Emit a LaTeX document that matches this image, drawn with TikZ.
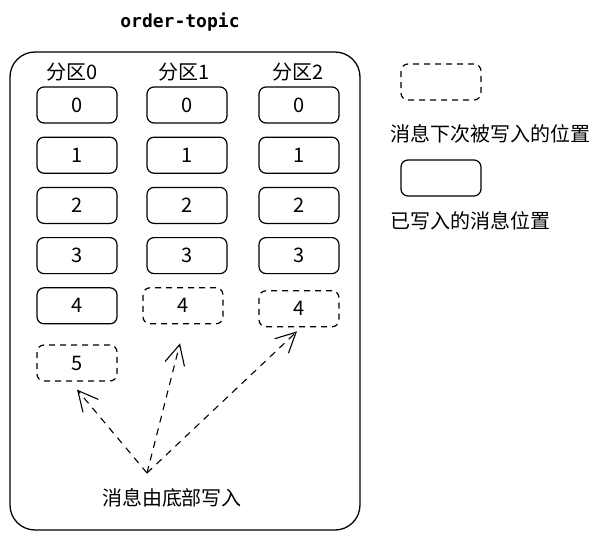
\documentclass[tikz,border=0pt]{standalone}
\usepackage{fontspec}
\setmainfont{Noto Sans CJK SC}
\newfontfamily\titlefont{DejaVu Sans Mono}
\usetikzlibrary{arrows.meta, positioning}
\usepackage{xcolor}

\begin{document}
\begin{tikzpicture}[
x=1pt, y=-1pt,
node distance=13pt,
msg/.style={draw, rectangle, rounded corners=7pt, line width=1.2pt,
minimum width=80pt, minimum height=36pt, inner sep=0pt,
font=\fontsize{20}{22}\selectfont},
nextmsg/.style={msg, dash pattern=on 6pt off 5pt},
label/.style={font=\fontsize{20}{24}\selectfont, inner sep=0pt},
arrow/.style={-{Straight Barb[length=20pt, width=20pt]}, line width=1.1pt, dash pattern=on 7pt off 6pt}
]
\useasboundingbox (0,0) rectangle (606,543);

\node[font=\titlefont\bfseries\fontsize{18}{22}\selectfont] (title) at (180,22) {order-topic};
\draw[line width=1.3pt, rounded corners=25pt] (10,52) rectangle (360,530);

\node[label] (part0) at (72,72) {分区0};
\node[label] (part1) at (184,72) {分区1};
\node[label] (part2) at (298,72) {分区2};

% partition 0
\node[msg] (p0m0) at (77,105) {0};
\node[msg, below=of p0m0] (p0m1) {1};
\node[msg, below=of p0m1] (p0m2) {2};
\node[msg, below=of p0m2] (p0m3) {3};
\node[msg, below=of p0m3] (p0m4) {4};
\node[nextmsg, below=20pt of p0m4] (p0m5) {5};

% partition 1
\node[msg] (p1m0) at (187,105) {0};
\node[msg, below=of p1m0] (p1m1) {1};
\node[msg, below=of p1m1] (p1m2) {2};
\node[msg, below=of p1m2] (p1m3) {3};
\node[nextmsg, below=of p1m3, xshift=-4pt] (p1m4) {4};

% partition 2
\node[msg] (p2m0) at (299,105) {0};
\node[msg, below=of p2m0] (p2m1) {1};
\node[msg, below=of p2m1] (p2m2) {2};
\node[msg, below=of p2m2] (p2m3) {3};
\node[nextmsg, below=16pt of p2m3] (p2m4) {4};

% write from bottom
\coordinate (src) at (147,473);
\node[label] (bottom) at (172,498) {消息由底部写入};
\draw[arrow] (src) -- ([yshift=-8pt]p0m5.south);
\draw[arrow] (src) -- ([yshift=-19pt,xshift=-3pt]p1m4.south);
\draw[arrow] (src) -- ([yshift=-4pt,xshift=-2pt]p2m4.south);

% legend
\node[nextmsg] (legnext) at (441,82) {};
\node[label, anchor=north west] (legnexttxt) at (390,124) {消息下次被写入的位置};
\node[msg] (legdone) at (441,178) {};
\node[label, anchor=north west] (legdonetxt) at (390,211) {已写入的消息位置};

\end{tikzpicture}
\end{document}
